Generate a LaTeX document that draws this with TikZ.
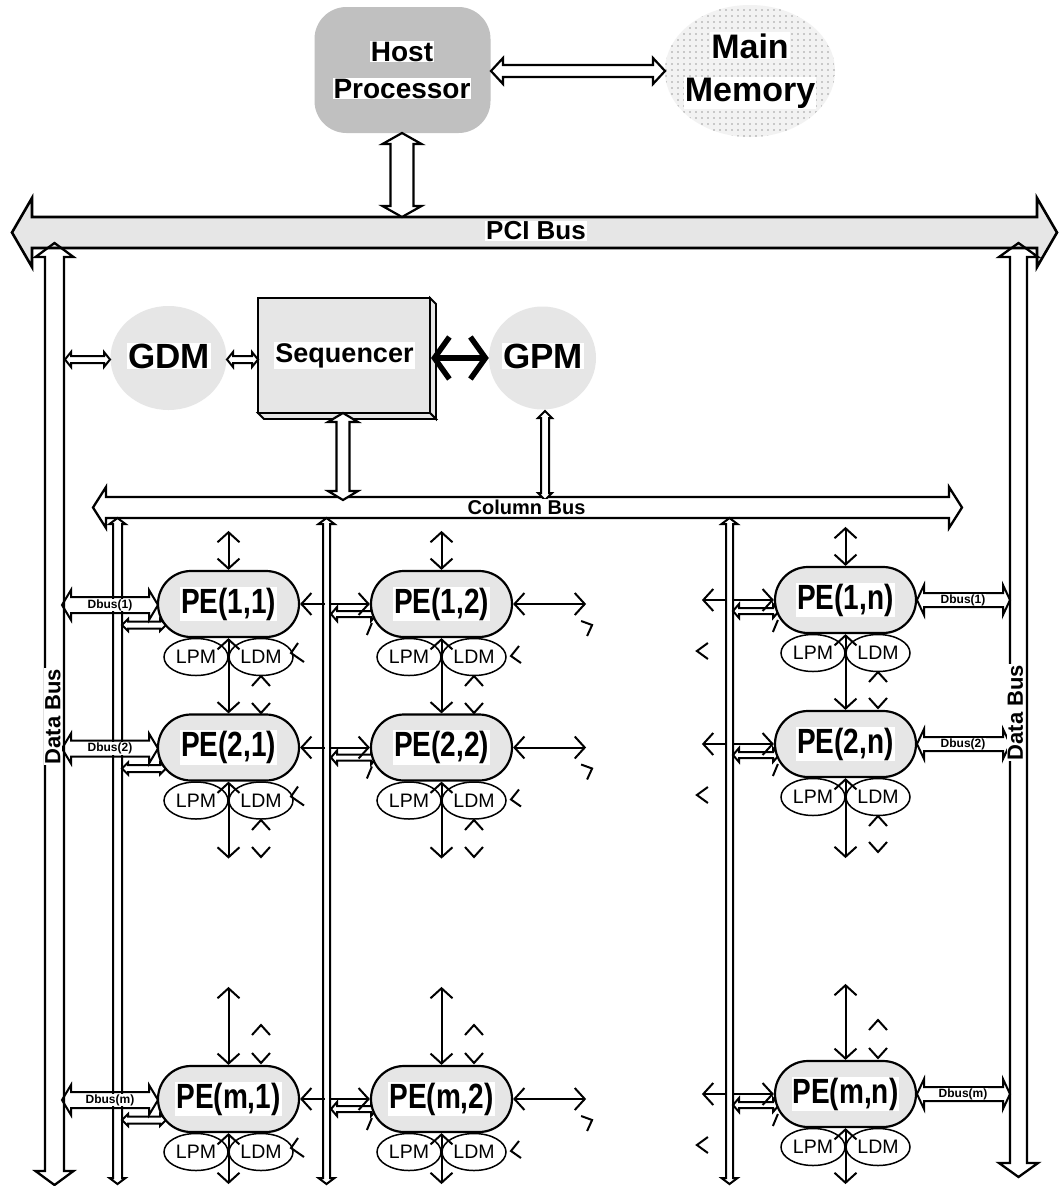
\documentclass[tikz,border=0pt]{standalone}
\usepackage{fontspec}
\usepackage{graphicx}
\setmainfont{Liberation Sans}
\usetikzlibrary{arrows.meta,patterns.meta,calc,shapes.geometric}
\definecolor{lg}{HTML}{E6E6E6}
\definecolor{hostgray}{HTML}{C0C0C0}
\setlength{\fboxsep}{1pt}
\newcommand\fs[1]{\fontsize{#1}{#1}\selectfont}
% hollow double arrow, horizontal: [style]{x1}{x2}{y}{w}{h}{L}
\newcommand\hhar[7][]{\draw[hollow,#1] (#2,#4) -- ({#2+#7},{#4-#6}) -- ({#2+#7},{#4-#5}) -- ({#3-#7},{#4-#5}) -- ({#3-#7},{#4-#6}) -- (#3,#4) -- ({#3-#7},{#4+#6}) -- ({#3-#7},{#4+#5}) -- ({#2+#7},{#4+#5}) -- ({#2+#7},{#4+#6}) -- cycle;}
% hollow double arrow, vertical: [style]{y1}{y2}{x}{w}{h}{L}
\newcommand\vvar[7][]{\draw[hollow,#1] (#4,#2) -- ({#4-#6},{#2+#7}) -- ({#4-#5},{#2+#7}) -- ({#4-#5},{#3-#7}) -- ({#4-#6},{#3-#7}) -- (#4,#3) -- ({#4+#6},{#3-#7}) -- ({#4+#5},{#3-#7}) -- ({#4+#5},{#2+#7}) -- ({#4+#6},{#2+#7}) -- cycle;}
\newcommand\upch[2]{\draw[tk] ({#1-9},{#2+10}) -- (#1,#2) -- ({#1+9},{#2+10});}
\newcommand\dnch[2]{\draw[tk] ({#1-9},{#2-10}) -- (#1,#2) -- ({#1+9},{#2-10});}
\newcommand\pelab[1]{\colorbox{white}{\scalebox{0.8}[1]{\fs{35}\bfseries #1}}}
\newcommand\pecell[4]{%
  \node[penode] (#1) at (#2,#3) {\pelab{#4}};
  \node[memnode] (#1lpm) at ({#2-32.5},{#3+53}) {LPM};
  \node[memnode] (#1ldm) at ({#2+32.5},{#3+53}) {LDM};}
\begin{document}
\begin{tikzpicture}[x=1pt,y=-1pt,
  hollow/.style={draw=black,line width=2pt,line join=miter},
  tk/.style={line width=2pt},
  arr/.style={line width=2pt,>={Straight Barb[length=10pt,width=22pt]}},
  penode/.style={draw,line width=2.2pt,fill=lg,minimum width=141pt,minimum height=66pt,rounded corners=33pt,inner sep=0pt},
  memnode/.style={draw,line width=1.5pt,fill=white,ellipse,minimum width=64pt,minimum height=37pt,inner sep=0pt,font=\fs{19.5}},
  lbl/.style={fill=white,inner sep=1pt},
  bigtxt/.style={lbl,anchor=base}]
\useasboundingbox (0,0) rectangle (1058,1186);
\fill[white] (0,0) rectangle (1058,1186);

% ---------- buses ----------
\hhar[fill=lg,line width=2.6pt]{12}{1057}{232.5}{15.5}{34.5}{20}
\vvar[line width=2.3pt]{243}{1185}{54.5}{9.5}{19}{14}
\vvar[line width=2.3pt]{243}{1177}{1018.5}{8.5}{19.5}{14}
\hhar[line width=2.3pt]{93}{962}{507.5}{10.5}{20.5}{13}
\vvar{518}{1184}{117.5}{4.5}{8}{6}
\vvar{518}{1184}{326.5}{3.5}{8}{6}
\vvar{518}{1184}{729.5}{3.5}{8}{6}

% ---------- host and memory ----------
\node[fill=hostgray,rounded corners=32pt,minimum width=176pt,minimum height=126pt,inner sep=0pt] (host) at (402.5,70) {};
\node[bigtxt,font=\fs{28}\bfseries] (hostt) at (402,61) {Host};
\node[bigtxt,font=\fs{28}\bfseries] (proct) at (402,98) {Processor};
\node[ellipse,minimum width=170pt,minimum height=132pt,inner sep=0pt,
      preaction={fill=gray!10},pattern={Dots[distance=6pt,radius=0.8pt]},pattern color=gray!75] (mem) at (750,71) {};
\node[bigtxt,font=\fs{34}\bfseries] (memt1) at (750,58) {Main};
\node[bigtxt,font=\fs{34}\bfseries] (memt2) at (750,101) {Memory};
\hhar[line width=2.2pt]{491}{665}{71}{6}{13}{12}
\vvar[line width=2.2pt,fill=white]{133}{217}{402}{11.5}{19.5}{11}

% ---------- GDM, Sequencer, GPM ----------
\node[ellipse,fill=lg,minimum width=116pt,minimum height=104pt] (gdm) at (168.5,358) {};
\node[bigtxt,font=\fs{35}\bfseries] (gdmt) at (169,368) {GDM};
\filldraw[fill=lg,line width=1.8pt] (430,298) -- (436,304) -- (436,419) -- (430,413) -- cycle;
\filldraw[fill=lg,line width=1.8pt] (258,413) -- (264,419) -- (436,419) -- (430,413) -- cycle;
\node[draw,fill=lg,line width=2pt,minimum width=172pt,minimum height=115pt,inner sep=0pt] (seq) at (344,355.5) {};
\node[bigtxt,font=\fs{27}\bfseries] (seqt) at (344.5,362) {Sequencer};
\node[ellipse,fill=lg,minimum width=107pt,minimum height=103pt] (gpm) at (542.5,358) {};
\node[bigtxt,font=\fs{35}\bfseries] (gpmt) at (543,368) {GPM};
\draw[line width=5.5pt,line cap=round,line join=round,
  {Straight Barb[length=15pt,width=42pt]}-{Straight Barb[length=15pt,width=42pt]}]
  ($(seq.east)+(0,2.5)$) -- (gpm.west);
\hhar{65}{110}{359.5}{3.5}{7.5}{6}
\hhar{227}{258}{359.5}{3.5}{7.5}{6}
\vvar[fill=white,line width=2.2pt]{413}{500}{343}{6.5}{15}{9}
\vvar[fill=white]{411}{500}{545}{4}{7}{7}

% ---------- small hollow arrows and Dbus arrows ----------
\foreach \cy in {604,747.5,1099}{
  \hhar{122}{166}{\cy+21}{3.5}{6}{6}
  \hhar{62}{158}{\cy+1}{8}{15}{9}
  \hhar{331}{377}{\cy+10}{3}{7}{6}
}
\foreach \cy in {600,744,1094}{
  \hhar{733}{779}{\cy+11}{3}{7}{6}
  \hhar{917}{1010}{\cy}{7}{15}{7}
}

% ---------- PEs ----------
\pecell{pe11}{228.5}{604}{PE(1,1)}
\pecell{pe21}{228.5}{747.5}{PE(2,1)}
\pecell{pem1}{228.5}{1099}{PE(m,1)}
\pecell{pe12}{441.5}{604}{PE(1,2)}
\pecell{pe22}{441.5}{747.5}{PE(2,2)}
\pecell{pem2}{441.5}{1099}{PE(m,2)}
\pecell{pe1n}{845.5}{600}{PE(1,n)}
\pecell{pe2n}{845.5}{744}{PE(2,n)}
\pecell{pemn}{845.5}{1094}{PE(m,n)}

% ---------- vertical connectors ----------
\foreach \c in {1,2}{
  \draw[arr,<->] ($(pe1\c.north)+(0,-39)$) -- (pe1\c.north);
  \draw[arr,<->] (pe1\c.south) -- (pe2\c.north);
  \draw[arr,<->] (pe2\c.south) -- ++(0,77);
  \draw[arr,<->] ($(pem\c.north)+(0,-78)$) -- (pem\c.north);
  \draw[arr,<->] (pem\c.south) -- ++(0,51);
}
\draw[arr,<->] ($(pe1n.north)+(0,-39)$) -- (pe1n.north);
\draw[arr,<->] (pe1n.south) -- (pe2n.north);
\draw[arr,<->] (pe2n.south) -- ++(0,80);
\draw[arr,<->] ($(pemn.north)+(0,-76)$) -- (pemn.north);
\draw[arr,<->] (pemn.south) -- ++(0,56);

% ---------- horizontal connectors ----------
\foreach \r in {1,2,m}{
  \draw[arr,<-] (pe\r1.east) -- ++(24.5,0);
  \draw[arr,->] ($(pe\r2.west)+(-41,0)$) -- (pe\r2.west);
  \draw[tk] ($(pe\r2.west)+(-3,31)$) -- ++(5,-12);
  \draw[arr,<->] (pe\r2.east) -- ++(73,0);
  \draw[tk] ($(pe\r2.east)+(68,17)$) -- ++(11,4) -- ++(-5,11);
  \draw[tk] ($(pe\r1ldm.center)+(37,-14)$) -- ++(-7,10) -- ++(13,9);
  \draw[tk] ($(pe\r2ldm.center)+(45,-11)$) -- ++(-8,10) -- ++(10,7);
  \draw[arr,<-] ($(pe\r n.west)+(-72,0)$) -- ++(24,0);
  \draw[arr,->] ($(pe\r n.west)+(-41,0)$) -- (pe\r n.west);
  \draw[tk] ($(pe\r n.west)+(-1,32)$) -- ++(5,-12);
  \draw[tk] ($(pe\r n.west)+(-66,43)$) -- ++(-11,8) -- ++(11,8);
}

% ---------- loose arrow heads ----------
\foreach \x in {261,474}{
  \upch{\x}{676} \dnch{\x}{713}
  \upch{\x}{820} \dnch{\x}{857}
  \upch{\x}{1025} \dnch{\x}{1063}
}
\upch{878}{672} \dnch{878}{708}
\upch{878}{816} \dnch{878}{852}
\upch{878}{1020} \dnch{878}{1058}

% ---------- labels ----------
\node[lbl,font=\fs{26}\bfseries] (pcil) at (536,231) {PCI Bus};
\node[lbl,font=\fs{20}\bfseries,inner sep=0.5pt] (colbl) at (526.5,507) {Column Bus};
\node[lbl,font=\fs{22}\bfseries,rotate=90] (dbl) at (53,716.5) {Data Bus};
\node[lbl,font=\fs{22}\bfseries,rotate=90] (dbr) at (1015.5,712.5) {Data Bus};
\node[lbl,font=\fs{12}\bfseries,inner sep=0.5pt] (db1l) at (110,605) {Dbus(1)};
\node[lbl,font=\fs{12}\bfseries,inner sep=0.5pt] (db2l) at (110,748.5) {Dbus(2)};
\node[lbl,font=\fs{12}\bfseries,inner sep=0.5pt] (dbml) at (110,1100) {Dbus(m)};
\node[lbl,font=\fs{12}\bfseries,inner sep=0.5pt] (db1r) at (963,600) {Dbus(1)};
\node[lbl,font=\fs{12}\bfseries,inner sep=0.5pt] (db2r) at (963,744) {Dbus(2)};
\node[lbl,font=\fs{12}\bfseries,inner sep=0.5pt] (dbmr) at (963,1094) {Dbus(m)};
\end{tikzpicture}
\end{document}
